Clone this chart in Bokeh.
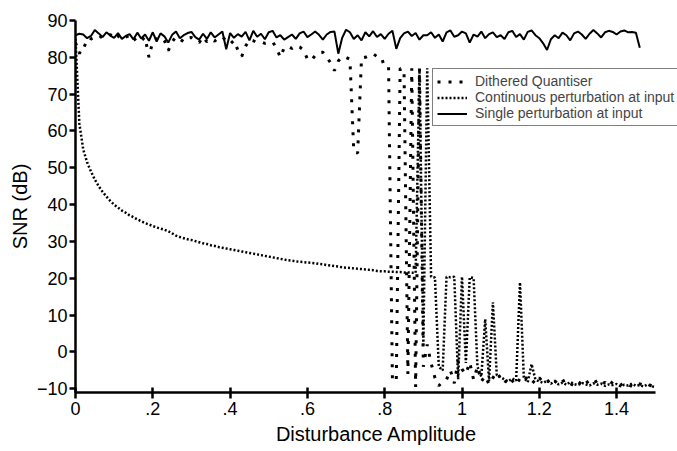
import numpy as np
from bokeh.plotting import figure
from bokeh.models import Range1d, FixedTicker
from bokeh.embed import file_html
from bokeh.resources import INLINE

# Disturbance amplitude grid (step 0.01)
amp_all = np.round(np.arange(0, 1.505, 0.01), 2)

# Single perturbation at input (0.00 .. 1.46)
single = [
    86.0, 86.4, 86.2, 85.2, 85.8, 87.4, 86.5, 85.5, 86.8, 85.9,
    85.3, 86.6, 85.0, 85.8, 86.3, 84.9, 86.7, 85.1, 86.2, 84.5,
    86.8, 84.3, 86.5, 85.7, 84.0, 86.1, 87.0, 85.2, 86.0, 86.6,
    86.9, 85.5, 84.8, 86.4, 85.0, 86.8, 85.4, 86.2, 87.0, 82.2,
    86.6, 85.3, 86.3, 85.6, 86.9, 84.6, 87.2, 85.6, 86.4, 84.9,
    86.8, 87.2, 85.4, 86.0, 84.8, 85.5, 86.2, 85.0, 86.5, 87.0,
    85.5, 86.2, 87.0, 86.1, 84.8, 86.2, 86.9, 87.0, 81.0, 85.3,
    87.5, 86.8, 85.0, 86.0, 84.6, 86.8, 85.7, 87.1, 85.5, 86.3,
    85.0, 86.4, 87.2, 82.3, 85.2, 86.5, 87.0, 85.8, 86.6, 84.8,
    86.0, 86.0, 86.8, 85.3, 86.2, 84.3, 86.8, 87.3, 85.6, 86.0,
    87.0, 86.5, 84.0, 86.2, 85.6, 87.0, 85.2, 86.3, 86.8, 85.5,
    86.0, 85.0, 86.8, 87.2, 85.5, 86.3, 84.8, 86.9, 87.3, 86.0,
    85.2, 83.8, 82.0, 84.9, 86.0, 85.2, 86.7, 86.0, 84.6, 86.5,
    87.0, 86.2, 85.0, 86.4, 87.4, 86.5, 85.4, 86.8, 87.2, 86.9,
    86.2, 87.0, 87.3, 86.8, 86.9, 86.7, 82.6,
]

# Dithered Quantiser (0.00 .. 1.50)
dithered = [
    84.0, 81.0, 83.5, 83.0, 85.0, 85.5, 86.0, 85.2, 85.6, 86.2,
    85.0, 85.8, 84.8, 85.5, 86.0, 84.6, 85.4, 84.5, 85.5, 80.0,
    84.4, 85.0, 85.5, 84.6, 81.8, 84.2, 85.6, 85.0, 84.2, 85.2,
    85.4, 84.8, 84.0, 85.6, 84.2, 85.0, 84.4, 85.2, 85.6, 84.4,
    83.6, 84.6, 82.0, 80.2, 83.0, 84.8, 84.5, 84.0, 84.2, 83.8,
    84.0, 84.2, 82.5, 80.0, 82.6, 83.0, 82.4, 83.2, 82.8, 82.0,
    79.5, 79.1, 80.5, 81.4, 81.4, 80.0, 78.5, 76.4, 79.0, 80.2,
    80.0, 79.5, 54.5, 54.0, 79.8, 80.0, 80.5, 81.0, 80.2, 78.7,
    79.0, 77.5, -8.0, -7.5, 77.0, 76.5, -6.0, 77.0, -9.5, 77.0,
    -4.0, 2.0, -3.0, -7.0, -9.2, -8.0, -7.5, -5.0, -8.5, -2.4,
    -4.7, -6.0, -2.8, -7.5, -4.0, -8.0, -6.5, -8.8, -7.0, -5.5,
    -7.2, -8.5, -6.8, -7.8, -9.0, -7.2, -8.0, -6.5, -7.6, -8.6,
    -7.0, -8.2, -7.5, -8.8, -7.8, -9.0, -8.0, -7.4, -8.6, -9.2,
    -8.0, -8.8, -7.6, -9.0, -8.4, -7.8, -8.9, -8.2, -9.3, -8.0,
    -8.6, -9.0, -8.3, -8.8, -9.4, -8.5, -8.7, -9.0, -8.6, -9.2, -9.5,
]

# Continuous perturbation at input (0.00 .. 1.50)
continuous = [
    85.0, 62.0, 55.0, 51.5, 49.0, 46.8, 45.0, 43.5, 42.2, 41.0,
    40.0, 39.2, 38.4, 37.8, 37.1, 36.6, 36.0, 35.5, 35.0, 34.6,
    34.2, 33.8, 33.5, 33.2, 32.8, 32.2, 31.6, 31.2, 30.9, 30.6,
    30.4, 30.1, 29.8, 29.5, 29.3, 29.0, 28.8, 28.5, 28.3, 28.1,
    27.9, 27.7, 27.5, 27.3, 27.1, 26.9, 26.7, 26.5, 26.3, 26.1,
    25.9, 25.7, 25.5, 25.3, 25.1, 24.9, 24.8, 24.6, 24.5, 24.4,
    24.3, 24.2, 24.1, 23.9, 23.8, 23.6, 23.5, 23.3, 23.2, 23.0,
    22.9, 22.8, 22.7, 22.6, 22.5, 22.4, 22.3, 22.2, 22.0, 21.9,
    21.9, 21.8, 21.8, 21.7, 21.7, 21.6, 21.6, 21.5, 21.5, 76.5,
    2.0, 77.0, 20.4, 20.2, -4.0, -5.0, 20.4, 20.3, 20.4, -7.4,
    20.4, -3.0, 20.3, 20.1, -4.0, -6.7, 8.9, -7.9, 13.5, -6.3,
    -6.8, -7.5, -8.0, -7.2, -7.8, 18.9, -7.0, -8.2, -3.3, -7.5,
    -8.0, -8.4, -7.8, -8.6, -8.0, -8.8, -8.3, -8.9, -8.1, -8.7,
    -9.0, -8.4, -8.8, -9.1, -8.5, -8.9, -8.6, -9.2, -8.8, -9.0,
    -8.7, -9.3, -8.9, -9.1, -8.6, -9.2, -9.0, -9.4, -8.8, -9.3, -9.5,
]

x_ticks = [0, 0.2, 0.4, 0.6, 0.8, 1.0, 1.2, 1.4]
x_tick_labels = ["0", ".2", ".4", ".6", ".8", "1", "1.2", "1.4"]
y_ticks = [-10, 0, 10, 20, 30, 40, 50, 60, 70, 80, 90]

FONT = "Liberation Sans"

W, H = 677, 451
LEFT, TOP, BOTTOM = 75, 20, 59
PX_PER_UNIT = 386.5
x_end = (W - LEFT) / PX_PER_UNIT   # frame runs to canvas edge so the legend is not clipped

p = figure(width=W, height=H, x_range=Range1d(0, x_end), y_range=Range1d(-11, 90),
           output_backend="svg", toolbar_location=None,
           min_border_left=LEFT, min_border_top=TOP, min_border_right=0, min_border_bottom=BOTTOM)
p.outline_line_color = None
p.xgrid.visible = False
p.ygrid.visible = False
p.background_fill_color = "white"
p.border_fill_color = "white"

p.line(amp_all[:len(dithered)], dithered, line_color="black", line_width=3,
       line_dash="3 8", legend_label="Dithered Quantiser")
p.line(amp_all[:len(continuous)], continuous, line_color="black", line_width=2.5,
       line_dash="2 2", legend_label="Continuous perturbation at input")
p.line(amp_all[:len(single)], single, line_color="black", line_width=2,
       legend_label="Single perturbation at input")

for ax in (p.xaxis[0], p.yaxis[0]):
    ax.axis_line_width = 2.5
    ax.axis_line_color = "black"
    ax.major_tick_line_width = 2.5
    ax.major_tick_line_color = "black"
    ax.minor_tick_line_color = None
    ax.major_label_text_font = FONT
    ax.major_label_text_font_size = "18px"
    ax.major_label_text_color = "black"
    ax.axis_label_text_font = FONT
    ax.axis_label_text_font_size = "20px"
    ax.axis_label_text_font_style = "normal"
    ax.axis_label_text_color = "black"

p.xaxis.bounds = (0, 1.5)
p.xaxis.ticker = FixedTicker(ticks=x_ticks)
p.xaxis.major_label_overrides = {t: l for t, l in zip(x_ticks, x_tick_labels)}
p.xaxis.major_tick_in = 5
p.xaxis.major_tick_out = 6
p.xaxis.major_label_standoff = 3
p.xaxis.axis_label = "Disturbance Amplitude"
p.xaxis.axis_label_standoff = 5

p.yaxis.ticker = FixedTicker(ticks=y_ticks)
p.yaxis.major_tick_in = 0
p.yaxis.major_tick_out = 6
p.yaxis.major_label_standoff = 2
p.yaxis.axis_label = "SNR (dB)"
p.yaxis.axis_label_standoff = 3

lg = p.legend[0]
lg.location = (357, 266)
lg.label_text_font = FONT
lg.label_text_font_size = "14px"
lg.label_text_line_height = 0.9
lg.label_height = 13
lg.glyph_height = 13
lg.glyph_width = 30
lg.label_standoff = 8
lg.spacing = 0
lg.padding = 4
lg.margin = 0
lg.border_line_color = "black"
lg.border_line_width = 1
lg.background_fill_color = "white"
lg.background_fill_alpha = 1.0

open("out.html", "w").write(file_html(p, INLINE))
